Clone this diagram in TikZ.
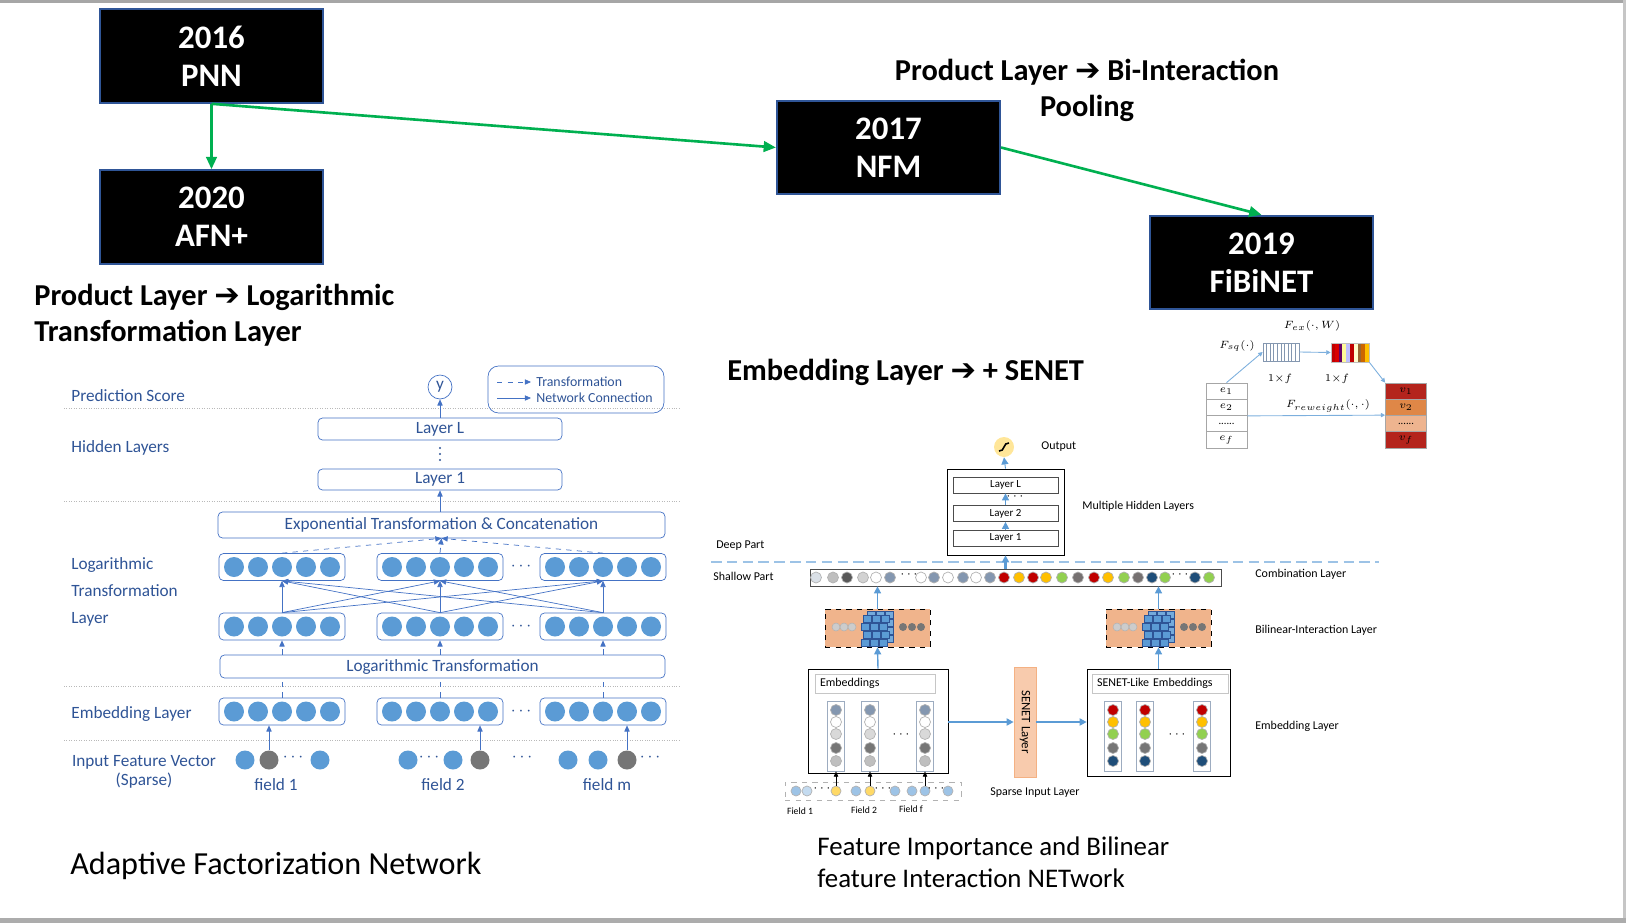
\documentclass[tikz,border=0pt]{standalone}
\usepackage{fontspec}
\setmainfont{Carlito}
\newfontfamily\arrowfont{DejaVu Sans}
\usetikzlibrary{calc}
\usetikzlibrary{positioning}
\usetikzlibrary{arrows.meta}

\definecolor{edgegreen}{RGB}{0,176,80}
\definecolor{boxblue}{RGB}{47,85,151}
\definecolor{afnblue}{RGB}{68,114,196}
\definecolor{afntext}{RGB}{47,84,150}
\definecolor{dotblue}{RGB}{91,155,213}
\definecolor{dotgray}{RGB}{118,118,118}
\definecolor{fibline}{RGB}{91,155,213}
\definecolor{fibdash}{RGB}{157,195,230}
\definecolor{slate}{RGB}{132,151,176}
\definecolor{lgray}{RGB}{191,191,191}
\definecolor{dgray}{RGB}{89,89,89}
\definecolor{mgray}{RGB}{118,113,113}
\definecolor{cred}{RGB}{192,0,0}
\definecolor{cyel}{RGB}{255,192,0}
\definecolor{cgreen}{RGB}{146,208,80}
\definecolor{cnavy}{RGB}{31,78,121}
\definecolor{sblue}{RGB}{157,195,230}
\definecolor{syel}{RGB}{255,217,102}
\definecolor{bilin}{RGB}{240,180,140}
\definecolor{senet}{RGB}{248,203,173}
\definecolor{senetedge}{RGB}{244,177,131}
\definecolor{cubeedge}{RGB}{46,84,150}
\definecolor{sigfill}{RGB}{255,230,153}
\definecolor{vred}{RGB}{180,36,28}
\definecolor{vorange}{RGB}{223,135,71}
\definecolor{vpale}{RGB}{238,180,143}

\newcommand{\thenarrow}{{\arrowfont\bfseries ➔}}

\begin{document}
\begin{tikzpicture}[x=0.02cm, y=-0.02cm,
  year/.style={fill=black, draw=boxblue, line width=1.2pt, text=white, align=center,
    minimum width=4.46cm, minimum height=1.87cm, inner sep=0pt,
    font=\fontsize{18.7}{21.5}\selectfont\bfseries},
  evolve/.style={draw=edgegreen, line width=1.5pt, -{Triangle[length=7pt,width=6pt]}},
  heading/.style={inner sep=0pt, align=left, font=\fontsize{17.3}{20.5}\selectfont\bfseries},
  caption/.style={inner sep=0pt, align=left},
  afnlab/.style={inner sep=0pt, text=afntext, font=\fontsize{9.8}{15.3}\selectfont},
  afnbox/.style={draw=afnblue, rounded corners=2.5pt, inner sep=0pt, text=afntext,
    font=\fontsize{9.8}{11}\selectfont},
  vecbox/.style={draw=afnblue, rounded corners=2.5pt, minimum width=2.52cm,
    minimum height=0.54cm, inner sep=0pt},
  neuron/.style={circle, inner sep=0pt, minimum size=0.4cm, fill=dotblue},
  inbit/.style={circle, inner sep=0pt, minimum size=0.38cm, fill=#1},
  net/.style={draw=afnblue, -{Triangle[length=3.5pt,width=3pt]}},
  trans/.style={net, dashed},
  sepline/.style={draw=gray!55, densely dotted},
  fib/.style={inner sep=0pt, font=\fontsize{6.8}{8}\selectfont},
  layerbox/.style={draw=gray!60!black, fill=white, minimum width=2.1cm, minimum height=0.32cm,
    inner sep=0pt, font=\fontsize{6.2}{7}\selectfont},
  flow/.style={draw=fibline, line width=0.8pt, -{Triangle[length=4pt,width=4pt]}},
  bead/.style={circle, inner sep=0pt, minimum size=0.22cm, fill=#1, draw=black!30},
  colbox/.style={draw=slate!80, minimum width=0.34cm, minimum height=1.4cm, inner sep=0pt},
  hdrbox/.style={draw=gray!45, minimum height=0.38cm, inner xsep=0.1cm, inner ysep=0pt,
    align=left, font=\fontsize{6.8}{8}\selectfont},
  bilbox/.style={draw=black, dashed, fill=bilin, minimum width=2.1cm, minimum height=0.76cm,
    inner sep=0pt},
  stackcell/.style={draw=gray!70, minimum width=0.82cm, minimum height=0.325cm, inner sep=0pt,
    font=\fontsize{6}{7}\selectfont},
  weak/.style={draw=fibline!80, line width=0.5pt, -{Triangle[length=2.5pt,width=2.5pt]}},
  inlab/.style={inner sep=0pt, font=\fontsize{6}{7}\selectfont}]

\useasboundingbox (0,0) rectangle (1626,923);
\fill[gray!70] (0,0) rectangle (1626,3);
\fill[gray!45] (1623,0) rectangle (1626,923);
\fill[gray!65] (0,918) rectangle (1626,923);

% model timeline
\node[year] (pnn) at (211.5,56) {2016\\PNN};
\node[year] (afn) at (211.5,217) {2020\\AFN+};
\node[year] (nfm) at (888.5,147.5) {2017\\NFM};
\node[year] (fibi) at (1261.5,262.5) {2019\\FiBiNET};

\draw[evolve] (pnn.south) -- (afn.north);
\draw[evolve] (pnn.south) -- (nfm.west);
\draw[evolve] (nfm.east) -- (fibi.north);

\node[heading, anchor=west] (afnhead) at (34,315) {Product Layer \thenarrow{} Logarithmic\\Transformation Layer};
\node[heading, align=center] (nfmhead) at (1087,90) {Product Layer \thenarrow{} Bi-Interaction\\Pooling};
\node[heading, anchor=west] (fibhead) at (727,372) {Embedding Layer \thenarrow{} + SENET};

\node[caption, anchor=west, font=\fontsize{18.3}{22}\selectfont] (afncap) at (70,866) {Adaptive Factorization Network};
\node[caption, anchor=west, font=\fontsize{15.3}{18.2}\selectfont] (fibcap) at (817,862) {Feature Importance and Bilinear\\feature Interaction NETwork};

% AFN
\foreach \y in {408,501,686,740} \draw[sepline] (64,\y) -- (679,\y);

\node[afnlab, anchor=west] (lpred) at (71,396) {Prediction Score};
\node[afnlab, anchor=west] (lhid) at (71,448) {Hidden Layers};
\node[afnlab, anchor=west, align=left] (llog) at (71,592) {Logarithmic\\Transformation\\Layer};
\node[afnlab, anchor=west] (lemb) at (71,714) {Embedding Layer};
\node[afnlab, align=center, font=\fontsize{9.8}{10.5}\selectfont] (linp) at (144,772) {Input Feature Vector\\(Sparse)};

\node[circle, draw=afnblue, text=afntext, minimum size=0.48cm, inner sep=0pt,
  font=\fontsize{9.8}{11}\selectfont] (yhat) at (440,387) {y};
\node[afnbox, minimum width=4.88cm, minimum height=0.44cm] (layL) at (440,429) {Layer L};
\node[afnbox, minimum width=4.88cm, minimum height=0.42cm] (lay1) at (440,479.5) {Layer 1};
\foreach \y in {448,454,460} \fill[afntext] (440,\y) circle (0.022cm);
\node[afnbox, minimum width=8.94cm, minimum height=0.52cm] (expo) at (441.5,525) {Exponential Transformation \& Concatenation};
\node[afnbox, minimum width=8.9cm, minimum height=0.46cm] (logt) at (442.5,666.5) {Logarithmic Transformation};

\draw[net] (layL.north) -- (yhat.south);
\draw[net] (lay1.south |- expo.north) -- (lay1.south);

\foreach \n/\cx in {1/282, 2/440, 3/603} {
  \node[vecbox] (t\n) at (\cx,567) {};
  \node[vecbox] (m\n) at (\cx,626.5) {};
  \node[vecbox] (e\n) at (\cx,711.5) {};
  \foreach \d [count=\k] in {-48,-24,0,24,48} {
    \node[neuron] (t\n-\k) at (\cx+\d,567) {};
    \node[neuron] (m\n-\k) at (\cx+\d,626.5) {};
    \node[neuron] (e\n-\k) at (\cx+\d,711.5) {};
  }
}
\foreach \nm/\y in {dt/567, dm/626.5, de/711.5} \node[afnlab] (\nm) at (521,\y) {$\cdots$};

% transformation and network connections
\foreach \n in {1,2,3} \draw[trans] (t\n.north) -- (expo.south);
\foreach \i in {1,2,3} \foreach \j in {1,2,3} \draw[net] (m\i.north) -- (t\j.south);
\foreach \n in {1,2,3} \draw[trans] (m\n.south |- logt.north) -- (m\n.south);
\foreach \n in {1,2,3} \draw[afnblue, dashed] (e\n.north) -- (e\n.north |- logt.south);

% sparse input
\foreach \nm/\x/\c in {i11/245/dotblue, i12/269/dotgray, i13/320/dotblue, i21/408/dotblue,
    i22/453/dotblue, i23/480/dotgray, i31/568/dotblue, i32/598/dotblue, i33/627/dotgray}
  \node[inbit=\c] (\nm) at (\x,760) {};
\foreach \nm/\x in {d1/293, d2/429, d3/522, d4/650} \node[afnlab] (\nm) at (\x,758) {$\cdots$};
\draw[net] (i12.north) -- (i12.north |- e1.south);
\draw[net] (i23.north) -- (i23.north |- e2.south);
\draw[net] (i33.north) -- (i33.north |- e3.south);
\node[afnlab] (fld1) at (276,785) {field 1};
\node[afnlab] (fld2) at (443,785) {field 2};
\node[afnlab] (fld3) at (607,785) {field m};

% legend
\node[draw=afnblue, rounded corners=6pt, minimum width=3.52cm, minimum height=0.94cm] (legend) at (576,389.5) {};
\coordinate (lgt1) at (497,382);
\coordinate (lgt2) at (531,382);
\coordinate (lgn1) at (497,398);
\coordinate (lgn2) at (531,398);
\draw[trans] (lgt1) -- (lgt2);
\draw[net] (lgn1) -- (lgn2);
\node[afnlab, font=\fontsize{7.9}{9}\selectfont, right=0.1cm of lgt2] (lgtt) {Transformation};
\node[afnlab, font=\fontsize{7.9}{9}\selectfont, right=0.1cm of lgn2] (lgnt) {Network Connection};

% FiBiNET
\node[circle, fill=sigfill, minimum size=0.4cm, inner sep=0pt] (sig) at (1004,447) {};
\draw[line width=0.9pt] ($(sig)+(-5,4)$) .. controls ($(sig)+(1,5)$) and ($(sig)+(-1,-5)$) .. ($(sig)+(5,-4)$);
\node[fib, anchor=west] (lout) at (1041,447) {Output};

\node[draw=black, minimum width=2.34cm, minimum height=1.72cm] (hid) at (1005.5,512) {};
\node[layerbox] (hl) at (1005.5,485) {Layer L};
\node[layerbox] (h2) at (1005.5,513.5) {Layer 2};
\node[layerbox] (h1) at (1005.5,538) {Layer 1};
\node[fib] (hdots) at (1015,497) {$\cdots$};
\draw[flow, line width=0.5pt] (h1.north) -- (h2.south);
\draw[flow, line width=0.5pt] (h2.north) -- (hl.south);
\draw[flow, line width=0.5pt] (hid.north) -- (sig.south);
\node[fib, anchor=west] (lmhl) at (1082,506) {Multiple Hidden Layers};

\node[fib, anchor=west] (ldeep) at (716,546) {Deep Part};
\draw[fibdash, line width=0.8pt, dash pattern=on 6pt off 3pt] (711,562) -- (1379,562);
\node[fib, anchor=west] (lshal) at (713,576) {Shallow Part};

\node[draw=black!70, minimum width=8.22cm, minimum height=0.34cm, inner sep=0pt] (comb) at (1015.5,577.5) {};
\foreach \x/\c in {816/slate!30, 833/lgray, 847/dgray, 863/lgray!70, 876/white, 890/slate,
    921/white, 934/slate, 948/white, 963/slate, 976/white, 990/slate, 1004/cred, 1019/cyel,
    1033/cred, 1046/cyel, 1062/cgreen, 1078/mgray, 1094/cred, 1108/cyel, 1124/cgreen,
    1138/mgray, 1152/cnavy, 1165/cgreen, 1195/cnavy, 1209/cgreen}
  \node[bead=\c] (cb\x) at (\x,577.5) {};
\node[fib] (cbd1) at (909,575) {$\cdots$};
\node[fib] (cbd2) at (1180,575) {$\cdots$};
\draw[flow, line width=2pt] (comb.north -| hid.south) -- (hid.south);
\node[fib, anchor=west] (lcomb) at (1255,574) {Combination Layer};

% bilinear interaction
\node[bilbox] (bl1) at (877.5,628) {};
\node[bilbox] (bl2) at (1158.5,628) {};
\foreach \bx in {0,281} {
  \foreach \x in {836,844,852} \fill[lgray!80, draw=gray!60, line width=0.3pt] ({\x+\bx},627) circle (0.08cm);
  \foreach \x in {903,912,921} \fill[dotgray] ({\x+\bx},627) circle (0.08cm);
  \foreach \r in {0,...,3} \foreach \c in {0,1,2}
    \draw[fill=dotblue!85, draw=cubeedge, line width=0.3pt] ({867+\bx+\c*9},{611+\r*8}) rectangle ++(8,7);
  \foreach \r in {0,...,3} \foreach \c in {0,1,2}
    \draw[fill=dotblue, draw=cubeedge, line width=0.3pt] ({863+\bx+\c*9-mod(\r,2)*2},{615+\r*8}) rectangle ++(8,7);
}
\node[fib, anchor=west] (lbil) at (1255,630) {Bilinear-Interaction Layer};
\draw[flow] (bl1.north) -- (bl1.north |- comb.south);
\draw[flow] (bl2.north) -- (bl2.north |- comb.south);

% embeddings
\node[draw=black, minimum width=2.8cm, minimum height=2.08cm] (emb) at (878,721) {};
\node[hdrbox, minimum width=2.4cm, text width=2.2cm] (embh) at (875,683.5) {Embeddings};
\foreach \n/\cx in {1/836, 2/870, 3/925} {
  \node[colbox] (ec\n) at (\cx,736) {};
  \foreach \y/\c [count=\k] in {710/slate, 722/white, 734/lgray!60, 748/dotgray, 761/lgray}
    \node[bead=\c] (ec\n-\k) at (\cx,\y) {};
}
\node[fib] (ecd) at (901,735) {$\cdots$};
\draw[flow] (emb.north) -- (bl1.south);

\node[draw=black, minimum width=2.86cm, minimum height=2.14cm] (sle) at (1158.5,722.5) {};
\node[hdrbox, minimum width=2.72cm, text width=2.52cm] (sleh) at (1160,683.5) {SENET-Like Embeddings};
\foreach \n/\cx in {1/1113, 2/1145, 3/1202} {
  \node[colbox] (sc\n) at (\cx,736) {};
  \foreach \y/\c [count=\k] in {710/cred, 722/cyel, 734/cgreen, 748/dotgray, 761/cnavy}
    \node[bead=\c] (sc\n-\k) at (\cx,\y) {};
}
\node[fib] (scd) at (1177,735) {$\cdots$};
\draw[flow] (sle.north) -- (bl2.south);
\node[fib, anchor=west] (lembl) at (1255,726) {Embedding Layer};

\node[draw=senetedge, fill=senet, minimum width=0.44cm, minimum height=2.2cm, inner sep=0pt] (sen) at (1025,722) {};
\node[fib, rotate=-90, font=\fontsize{7.3}{8}\selectfont] (sent) at (sen.center) {SENET Layer};
\draw[flow, line width=1.3pt] (emb.east |- sen.west) -- (sen.west);
\draw[flow, line width=1.3pt] (sen.east) -- (sen.east -| sle.west);

% sparse input
\node[draw=gray!60, dashed, minimum width=3.52cm, minimum height=0.36cm] (sp) at (873,791) {};
\foreach \nm/\x/\c in {s1/796/sblue, s2/807/sblue!60, s3/836/syel, s4/856/sblue, s5/870/syel,
    s6/895/sblue, s7/912/sblue, s8/925/sblue, s9/948/sblue}
  \node[bead=\c, minimum size=0.2cm] (\nm) at (\x,791) {};
\foreach \nm/\x in {sd1/822, sd2/883, sd3/936} \node[fib] (\nm) at (\x,789) {$\cdots$};
\draw[-{Triangle[length=3pt,width=2.5pt]}] (s3.north) -- (ec1.south);
\draw[-{Triangle[length=3pt,width=2.5pt]}] (s5.north) -- (ec2.south);
\draw[-{Triangle[length=3pt,width=2.5pt]}] (s8.north) -- (ec3.south);
\node[fib, font=\fontsize{5.5}{6}\selectfont] (fl1) at (800,811) {Field 1};
\node[fib, font=\fontsize{5.5}{6}\selectfont] (fl2) at (864,810) {Field 2};
\node[fib, font=\fontsize{5.5}{6}\selectfont] (fl3) at (911,809) {Field f};
\node[fib, anchor=west] (lspar) at (990,793) {Sparse Input Layer};

% SENET detail
\node[stackcell] (ce1) at (1226.5,391.1) {$e_1$};
\node[stackcell] (ce2) at (1226.5,407.4) {$e_2$};
\node[stackcell] (ce3) at (1226.5,423.6) {......};
\node[stackcell] (ce4) at (1226.5,439.9) {$e_f$};
\node[stackcell, fill=vred] (cv1) at (1406,391.1) {$v_1$};
\node[stackcell, fill=vorange] (cv2) at (1406,407.4) {$v_2$};
\node[stackcell, fill=vpale] (cv3) at (1406,423.6) {......};
\node[stackcell, fill=vred] (cv4) at (1406,439.9) {$v_f$};

\node[draw=slate, minimum width=0.72cm, minimum height=0.36cm, inner sep=0pt] (sq) at (1281,352) {};
\foreach \k in {1,...,9} \draw[slate] ({1263+\k*3.6},343) -- ({1263+\k*3.6},361);
\foreach \c [count=\k from 0] in {cred, red!85!black, violet!80!black, yellow!40, blue!25, cred,
    yellow!20, brown!80!black, orange!80!black, cyel}
  \fill[\c] ({1331+\k*3.8},343) rectangle ++(3.8,19);
\node[draw=gray!50, minimum width=0.76cm, minimum height=0.38cm, inner sep=0pt] (ex) at (1350,352.5) {};

\draw[weak] (ce1.north) -- (sq.west);
\draw[weak] (sq.east) -- (ex.west);
\draw[weak] (ex.south east) -- (cv1.north west);
\draw[weak] (ce2.south east) -- (cv3.north west);

\node[inlab] (lsq) at (1237,346) {$F_{sq}(\cdot)$};
\node[inlab] (lex) at (1312,326) {$F_{ex}(\cdot,W)$};
\node[inlab] (ldim1) at (1280,379) {$1{\times}f$};
\node[inlab] (ldim2) at (1337,379) {$1{\times}f$};
\node[inlab] (lrw) at (1328,406) {$F_{reweight}(\cdot,\cdot)$};
\end{tikzpicture}
\end{document}
